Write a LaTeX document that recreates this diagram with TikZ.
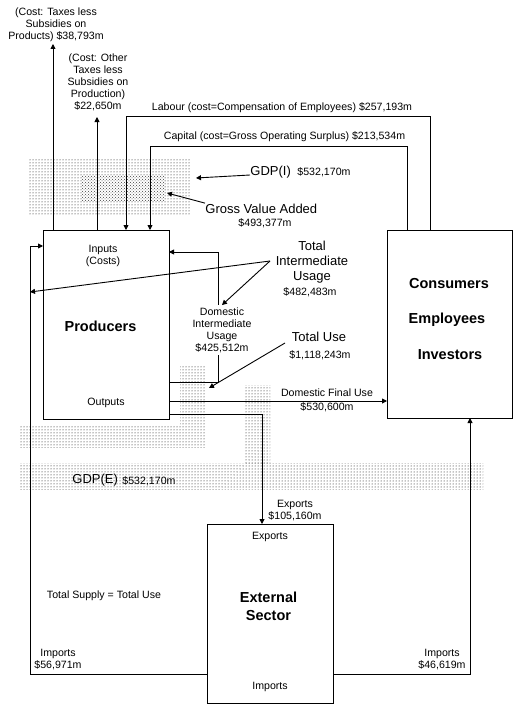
\documentclass[tikz,border=0pt]{standalone}
\usepackage{fontspec}
\setmainfont{Liberation Sans}
\usetikzlibrary{arrows.meta,patterns}

\begin{document}
\begin{tikzpicture}[x=1pt, y=-1pt, line width=0.9pt,
    sm/.style={font=\fontsize{10.6}{12}\selectfont, align=center, inner sep=0pt},
    lg/.style={font=\fontsize{13}{15}\selectfont, align=center, inner sep=0pt},
    hv/.style={font=\fontsize{14.5}{18}\selectfont\bfseries, align=center, inner sep=0pt},
    sector/.style={draw, fill=white, inner sep=0pt, outer sep=0pt},
    flow/.style={-{Triangle[length=5pt, width=5pt]}},
    dotzone/.style={pattern=dots},
    densezone/.style={pattern=crosshatch dots, pattern color=black!75}]
    %\draw[help lines] (0,0) grid[step=10] (518,709);
    \useasboundingbox (0,0) rectangle (518,709);

    % dotted zones
    \fill[dotzone] (28,158) rectangle (190,215);
    \fill[white] (82,175) rectangle (165,200);
    \fill[densezone] (82,175) rectangle (165,200);
    \fill[dotzone] (20,425) rectangle (206,447);
    \fill[dotzone] (180,366) rectangle (206,425);
    \fill[dotzone] (245,385) rectangle (270,463);
    \fill[dotzone] (20,463) rectangle (483,489);

    % the three sectors
    \node[sector, minimum width=126pt, minimum height=189pt] (prod) at (106,324.5) {};
    \node[sm] (prodin) at (103,256) {Inputs\\(Costs)};
    \node[hv] (prodname) at (100.5,326) {Producers};
    \node[sm] (prodout) at (106,403) {Outputs};

    \node[sector, minimum width=125pt, minimum height=188pt] (cons) at (449.5,324) {};
    \node[hv] (consname) at (449,284) {Consumers};
    \node[hv] (emplname) at (447,320) {Employees};
    \node[hv] (invname) at (450,355) {Investors};

    \node[sector, minimum width=126pt, minimum height=179pt] (ext) at (270,613.5) {};
    \node[sm] (extex) at (270,537) {Exports};
    \node[hv] (extname) at (268.5,606) {External\\Sector};
    \node[sm] (extim) at (270,687) {Imports};

    % taxes
    \coordinate (tpTip) at (53,44);
    \coordinate (tqTip) at (97,117);
    \draw[flow] (prod.north -| tpTip) -- (tpTip);
    \draw[flow] (prod.north -| tqTip) -- (tqTip);
    \node[sm] (tplbl) at (56,25) {(Cost: Taxes less\\Subsidies on\\Products) \$38,793m};
    \node[sm] (tqlbl) at (98,82) {(Cost: Other\\Taxes less\\Subsidies on\\Production)\\\$22,650m};

    % labour and capital
    \coordinate (labR) at (430,116);
    \coordinate (labL) at (126,116);
    \draw[flow] (cons.north -| labR) -- (labR) -- (labL) -- (prod.north -| labL);
    \node[sm] (lablbl) at (282,108) {Labour (cost=Compensation of Employees) \$257,193m};
    \coordinate (capR) at (407,146);
    \coordinate (capL) at (150,146);
    \draw[flow] (cons.north -| capR) -- (capR) -- (capL) -- (prod.north -| capL);
    \node[sm] (caplbl) at (284.5,137) {Capital (cost=Gross Operating Surplus) \$213,534m};

    % GDP(I) and value added
    \node[lg, anchor=base west] (gdpi) at (250,175) {GDP(I)};
    \node[sm, anchor=base west] (gdpival) at (297,175) {\$532,170m};
    \coordinate (gdpiTip) at (196,178);
    \draw[flow] (gdpi.base west) -- (gdpiTip);
    \node[lg, anchor=base west] (gva) at (205,213) {Gross Value Added};
    \node[sm] (gvaval) at (265,223) {\$493,377m};
    \coordinate (gvaTip) at (167,193);
    \draw[flow] (gva.north west) -- (gvaTip);

    % domestic intermediate usage
    \coordinate (diuB) at (218,382);
    \coordinate (diuT) at (218,252);
    \draw[flow] (prod.east |- diuB) -- (diuB) -- (diuT) -- (prod.east |- diuT);
    \node[sm, fill=white, inner sep=2pt] (diu) at (222,330) {Domestic\\Intermediate\\Usage\\\$425,512m};

    % total intermediate usage
    \node[lg] (tiu) at (312,262) {Total\\Intermediate\\Usage};
    \node[sm] (tiuval) at (310,292) {\$482,483m};
    \coordinate (tiuS) at (270,261);
    \coordinate (tiuTip) at (30,292);
    \draw[flow] (tiuS) -- (tiuTip);
    \draw[flow] (tiuS) -- (diu.north);

    % total use
    \node[lg] (tu) at (319,337) {Total Use};
    \node[sm] (tuval) at (320,355) {\$1,118,243m};
    \coordinate (tuS) at (285,343);
    \coordinate (tuTip) at (209,388);
    \draw[flow] (tuS) -- (tuTip);

    % domestic final use
    \coordinate (dfu) at (300,401);
    \draw[flow] (prod.east |- dfu) -- (cons.west |- dfu);
    \node[sm] (dfulbl) at (327,393) {Domestic Final Use};
    \node[sm] (dfuval) at (327,407) {\$530,600m};

    % exports
    \coordinate (expC) at (262,414);
    \draw[flow] (prod.east |- expC) -- (expC) -- (ext.north -| expC);
    \node[sm] (explbl) at (295,510.5) {Exports\\\$105,160m};

    % imports
    \coordinate (impL) at (30,674);
    \coordinate (impLT) at (30,246);
    \draw[flow] (ext.west |- impL) -- (impL) -- (impLT) -- (prod.west |- impLT);
    \coordinate (impR) at (470,674);
    \draw[flow] (ext.east |- impR) -- (impR) -- (cons.south -| impR);
    \node[sm] (impllbl) at (58,659.5) {Imports\\\$56,971m};
    \node[sm] (imprlbl) at (442,659.5) {Imports\\\$46,619m};

    % GDP(E)
    \node[lg, anchor=base west] (gdpe) at (72,483) {GDP(E)};
    \node[sm, anchor=base west] (gdpeval) at (122,484) {\$532,170m};

    \node[sm] (supply) at (104,596) {Total Supply = Total Use};
\end{tikzpicture}
\end{document}
